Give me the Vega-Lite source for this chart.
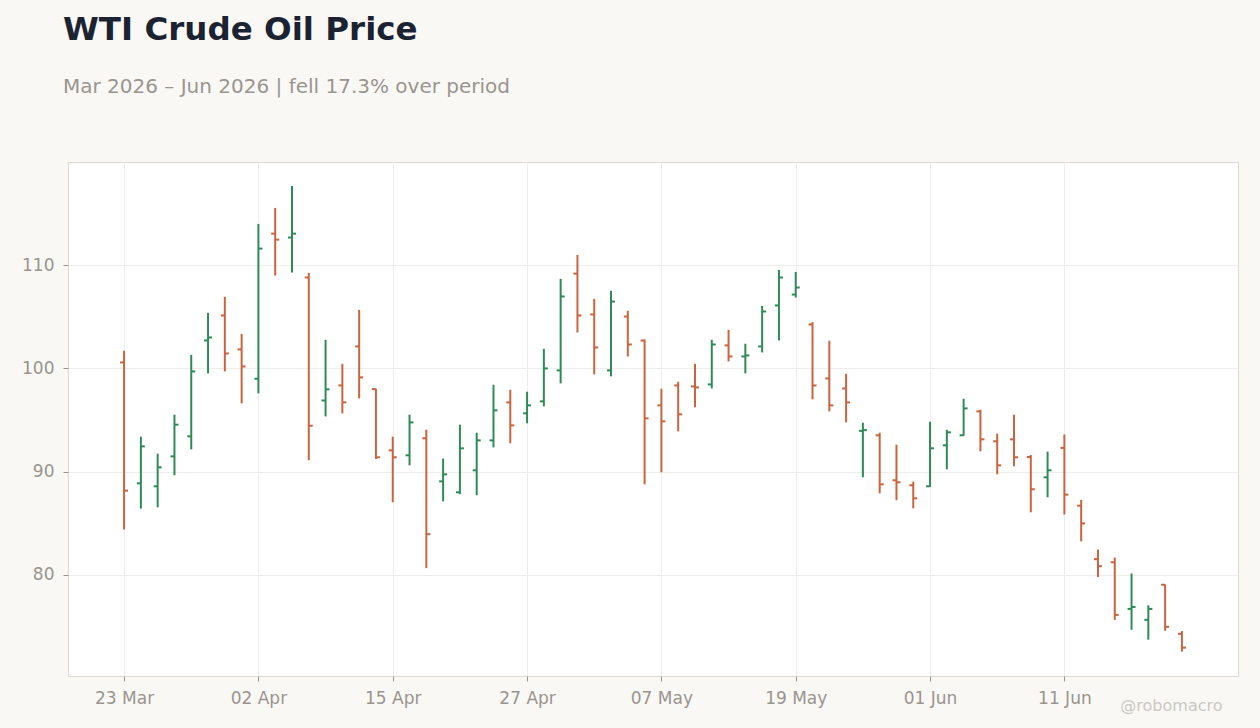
{
  "$schema": "https://vega.github.io/schema/vega-lite/v6.json",
  "title": {
    "text": "WTI Crude Oil Price",
    "subtitle": "Mar 2026 – Jun 2026 | fell 17.3% over period",
    "anchor": "start",
    "frame": "group",
    "dx": -5,
    "offset": 65,
    "font": "DejaVu Sans",
    "fontSize": 32.5,
    "fontWeight": "bold",
    "color": "#1b2333",
    "subtitleFont": "DejaVu Sans",
    "subtitleFontSize": 20,
    "subtitleColor": "#9a958f",
    "subtitlePadding": 31
  },
  "width": 1170,
  "height": 514,
  "autosize": {"type": "none"},
  "padding": {"left": 68, "top": 162, "right": 22, "bottom": 52},
  "background": "#f9f8f5",
  "config": {
    "font": "DejaVu Sans",
    "view": {"fill": "white", "stroke": "#ddd8d1", "strokeWidth": 1}
  },
  "data": {
    "values": [
      {"i": 0, "date": "2026-03-23", "open": 100.58, "high": 101.71, "low": 84.39, "close": 88.16},
      {"i": 1, "date": "2026-03-24", "open": 88.87, "high": 93.39, "low": 86.42, "close": 92.45},
      {"i": 2, "date": "2026-03-25", "open": 88.58, "high": 91.74, "low": 86.55, "close": 90.42},
      {"i": 3, "date": "2026-03-26", "open": 91.48, "high": 95.52, "low": 89.65, "close": 94.55},
      {"i": 4, "date": "2026-03-27", "open": 93.42, "high": 101.32, "low": 92.16, "close": 99.71},
      {"i": 5, "date": "2026-03-30", "open": 102.71, "high": 105.39, "low": 99.52, "close": 103.0},
      {"i": 6, "date": "2026-03-31", "open": 105.13, "high": 106.94, "low": 99.71, "close": 101.45},
      {"i": 7, "date": "2026-04-01", "open": 101.84, "high": 103.35, "low": 96.61, "close": 100.19},
      {"i": 8, "date": "2026-04-02", "open": 99.0, "high": 114.0, "low": 97.58, "close": 111.61},
      {"i": 9, "date": "2026-04-06", "open": 113.06, "high": 115.55, "low": 109.0, "close": 112.48},
      {"i": 10, "date": "2026-04-07", "open": 112.68, "high": 117.68, "low": 109.29, "close": 113.06},
      {"i": 11, "date": "2026-04-08", "open": 108.81, "high": 109.26, "low": 91.1, "close": 94.45},
      {"i": 12, "date": "2026-04-09", "open": 96.9, "high": 102.77, "low": 95.35, "close": 97.97},
      {"i": 13, "date": "2026-04-10", "open": 98.35, "high": 100.45, "low": 95.65, "close": 96.71},
      {"i": 14, "date": "2026-04-13", "open": 102.13, "high": 105.68, "low": 97.1, "close": 99.13},
      {"i": 15, "date": "2026-04-14", "open": 98.0, "high": 98.03, "low": 91.23, "close": 91.39},
      {"i": 16, "date": "2026-04-15", "open": 92.06, "high": 93.39, "low": 87.03, "close": 91.39},
      {"i": 17, "date": "2026-04-16", "open": 91.58, "high": 95.52, "low": 90.61, "close": 94.77},
      {"i": 18, "date": "2026-04-17", "open": 93.23, "high": 94.06, "low": 80.65, "close": 83.94},
      {"i": 19, "date": "2026-04-20", "open": 89.06, "high": 91.26, "low": 87.13, "close": 89.74},
      {"i": 20, "date": "2026-04-21", "open": 88.0, "high": 94.55, "low": 87.81, "close": 92.26},
      {"i": 21, "date": "2026-04-22", "open": 90.13, "high": 93.77, "low": 87.71, "close": 93.03},
      {"i": 22, "date": "2026-04-23", "open": 93.03, "high": 98.42, "low": 92.35, "close": 95.94},
      {"i": 23, "date": "2026-04-24", "open": 96.71, "high": 97.94, "low": 92.74, "close": 94.48},
      {"i": 24, "date": "2026-04-27", "open": 95.65, "high": 97.74, "low": 94.68, "close": 96.42},
      {"i": 25, "date": "2026-04-28", "open": 96.81, "high": 101.9, "low": 96.32, "close": 100.0},
      {"i": 26, "date": "2026-04-29", "open": 99.81, "high": 108.68, "low": 98.55, "close": 106.97},
      {"i": 27, "date": "2026-04-30", "open": 109.19, "high": 111.0, "low": 103.48, "close": 105.13},
      {"i": 28, "date": "2026-05-01", "open": 105.23, "high": 106.74, "low": 99.42, "close": 102.03},
      {"i": 29, "date": "2026-05-04", "open": 99.81, "high": 107.52, "low": 99.23, "close": 106.48},
      {"i": 30, "date": "2026-05-05", "open": 105.03, "high": 105.58, "low": 101.16, "close": 102.32},
      {"i": 31, "date": "2026-05-06", "open": 102.7, "high": 102.81, "low": 88.77, "close": 95.16},
      {"i": 32, "date": "2026-05-07", "open": 96.42, "high": 98.03, "low": 89.94, "close": 94.87},
      {"i": 33, "date": "2026-05-08", "open": 98.35, "high": 98.71, "low": 93.9, "close": 95.55},
      {"i": 34, "date": "2026-05-11", "open": 98.26, "high": 100.45, "low": 96.23, "close": 98.16},
      {"i": 35, "date": "2026-05-12", "open": 98.45, "high": 102.77, "low": 98.06, "close": 102.32},
      {"i": 36, "date": "2026-05-13", "open": 102.23, "high": 103.74, "low": 100.68, "close": 101.16},
      {"i": 37, "date": "2026-05-14", "open": 101.16, "high": 102.39, "low": 99.52, "close": 101.26},
      {"i": 38, "date": "2026-05-15", "open": 102.13, "high": 106.06, "low": 101.55, "close": 105.52},
      {"i": 39, "date": "2026-05-18", "open": 106.1, "high": 109.55, "low": 102.71, "close": 108.81},
      {"i": 40, "date": "2026-05-19", "open": 107.16, "high": 109.35, "low": 106.87, "close": 107.84},
      {"i": 41, "date": "2026-05-20", "open": 104.26, "high": 104.48, "low": 97.0, "close": 98.35},
      {"i": 42, "date": "2026-05-21", "open": 99.03, "high": 102.68, "low": 95.84, "close": 96.42},
      {"i": 43, "date": "2026-05-22", "open": 98.06, "high": 99.48, "low": 94.77, "close": 96.71},
      {"i": 44, "date": "2026-05-26", "open": 93.95, "high": 94.74, "low": 89.45, "close": 94.02},
      {"i": 45, "date": "2026-05-27", "open": 93.52, "high": 93.77, "low": 87.9, "close": 88.77},
      {"i": 46, "date": "2026-05-28", "open": 89.16, "high": 92.61, "low": 87.23, "close": 88.97},
      {"i": 47, "date": "2026-05-29", "open": 88.68, "high": 89.03, "low": 86.45, "close": 87.42},
      {"i": 48, "date": "2026-06-01", "open": 88.58, "high": 94.84, "low": 88.52, "close": 92.26},
      {"i": 49, "date": "2026-06-02", "open": 92.55, "high": 94.06, "low": 90.23, "close": 93.81},
      {"i": 50, "date": "2026-06-03", "open": 93.52, "high": 97.06, "low": 93.48, "close": 96.13},
      {"i": 51, "date": "2026-06-04", "open": 95.84, "high": 96.0, "low": 91.97, "close": 93.13},
      {"i": 52, "date": "2026-06-05", "open": 92.94, "high": 93.68, "low": 89.74, "close": 90.61},
      {"i": 53, "date": "2026-06-08", "open": 93.13, "high": 95.52, "low": 90.52, "close": 91.39},
      {"i": 54, "date": "2026-06-09", "open": 91.42, "high": 91.61, "low": 86.06, "close": 88.29},
      {"i": 55, "date": "2026-06-10", "open": 89.45, "high": 91.94, "low": 87.52, "close": 90.13},
      {"i": 56, "date": "2026-06-11", "open": 92.3, "high": 93.6, "low": 85.85, "close": 87.77},
      {"i": 57, "date": "2026-06-12", "open": 86.7, "high": 87.27, "low": 83.25, "close": 84.98},
      {"i": 58, "date": "2026-06-15", "open": 81.52, "high": 82.45, "low": 79.78, "close": 80.84},
      {"i": 59, "date": "2026-06-16", "open": 81.22, "high": 81.67, "low": 75.64, "close": 76.12},
      {"i": 60, "date": "2026-06-17", "open": 76.7, "high": 80.13, "low": 74.68, "close": 76.89},
      {"i": 61, "date": "2026-06-18", "open": 75.64, "high": 77.05, "low": 73.72, "close": 76.7},
      {"i": 62, "date": "2026-06-22", "open": 79.04, "high": 79.07, "low": 74.58, "close": 74.97},
      {"i": 63, "date": "2026-06-23", "open": 74.29, "high": 74.55, "low": 72.56, "close": 72.95}
    ]
  },
  "encoding": {
    "x": {
      "field": "i",
      "type": "quantitative",
      "scale": {"domain": [-3.34, 66.34], "nice": false, "zero": false},
      "axis": {
        "values": [0, 8, 16, 24, 32, 40, 48, 56],
        "labelExpr": "['23 Mar', '02 Apr', '15 Apr', '27 Apr', '07 May', '19 May', '01 Jun', '11 Jun'][datum.value / 8]",
        "labelAngle": 0,
        "labelFontSize": 17,
        "labelColor": "#9a948e",
        "labelPadding": 9,
        "tickColor": "#9a948e",
        "tickSize": 5,
        "domain": false,
        "grid": true,
        "gridColor": "#efedea",
        "title": "@robomacro",
        "titleFontSize": 16,
        "titleFontWeight": "normal",
        "titleColor": "#cbc8c3",
        "titleAnchor": "end",
        "titleAlign": "right",
        "titleBaseline": "alphabetic",
        "titleX": 1154,
        "titleY": 34
      }
    },
    "color": {
      "condition": {"test": "datum.close >= datum.open", "value": "#2e8b57"},
      "value": "#c9643f"
    }
  },
  "layer": [
    {
      "mark": {"type": "rule", "strokeWidth": 2},
      "encoding": {
        "y": {
          "field": "low",
          "type": "quantitative",
          "scale": {"domain": [70.2, 120], "nice": false, "zero": false},
          "axis": {
            "values": [80, 90, 100, 110],
            "labelFontSize": 17,
            "labelColor": "#9a948e",
            "labelPadding": 9,
            "tickColor": "#9a948e",
            "tickSize": 5,
            "domain": false,
            "grid": true,
            "gridColor": "#efedea",
            "title": null
          }
        },
        "y2": {"field": "high"}
      }
    },
    {
      "mark": {"type": "tick", "orient": "horizontal", "size": 4, "thickness": 2, "xOffset": -2, "opacity": 1},
      "encoding": {"y": {"field": "open", "type": "quantitative"}}
    },
    {
      "mark": {"type": "tick", "orient": "horizontal", "size": 4, "thickness": 2, "xOffset": 2, "opacity": 1},
      "encoding": {"y": {"field": "close", "type": "quantitative"}}
    }
  ]
}
